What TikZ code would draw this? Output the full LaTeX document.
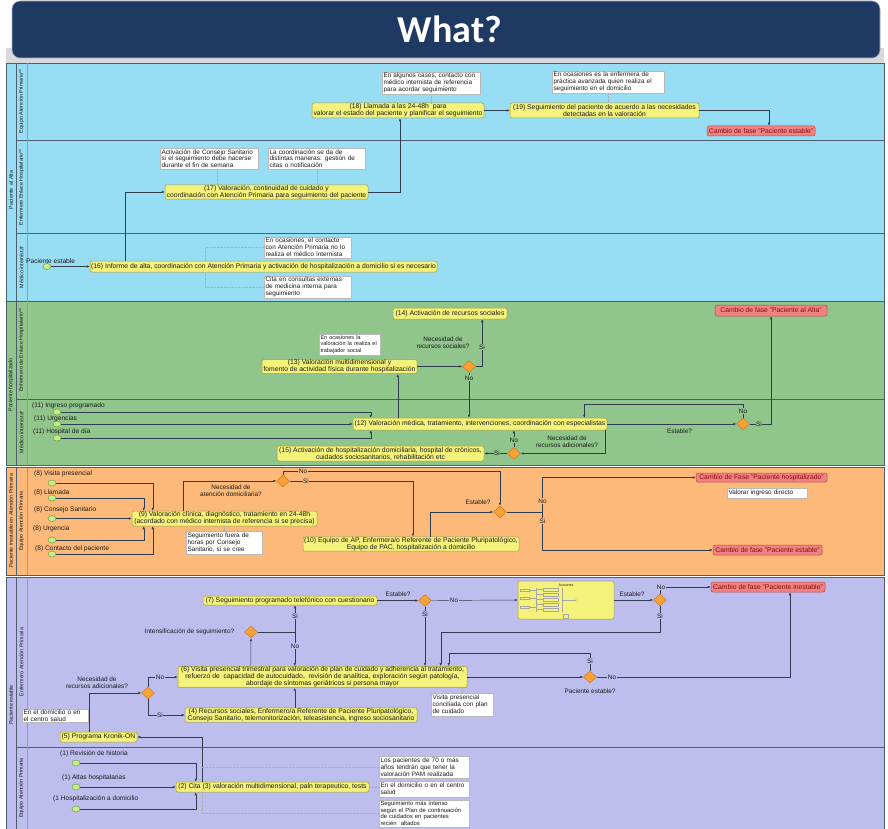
\documentclass[tikz,border=0pt]{standalone}
\usepackage{fontspec}
\setmainfont{Liberation Sans}
\newfontfamily\titlefam{Carlito}
\usetikzlibrary{arrows.meta,shapes.geometric,calc}
\definecolor{bluec}{HTML}{97DDF4}
\definecolor{greenc}{HTML}{90C58B}
\definecolor{orangec}{HTML}{FDB979}
\definecolor{purplec}{HTML}{BDBDEE}
\definecolor{taskf}{HTML}{F4F27A}
\definecolor{taskd}{HTML}{9C9C3C}
\definecolor{redf}{HTML}{EF8282}
\definecolor{redd}{HTML}{B84848}
\definecolor{redt}{HTML}{8A0A0A}
\definecolor{gwf}{HTML}{F7A136}
\definecolor{gwd}{HTML}{C8741A}
\definecolor{stf}{HTML}{C6EE8C}
\definecolor{std}{HTML}{6E9E3A}
\definecolor{linec}{HTML}{2E3C4C}
\definecolor{lanel}{HTML}{4E5E6E}
\definecolor{titlec}{HTML}{1E3A62}
\definecolor{txtc}{HTML}{1A1A1A}
\newcommand\dgtask{\fontsize{6.8}{7.0}\selectfont}
\newcommand\dgann{\fontsize{6.4}{6.8}\selectfont}
\newcommand\dgev{\fontsize{6.6}{7}\selectfont}
\newcommand\dglane{\fontsize{5.3}{6}\selectfont}
\newcommand\mkbox[7]{\pgfmathsetmacro\mkW{#5-#3}\pgfmathsetmacro\mkH{#6-#4}\pgfmathsetmacro\mkX{(#3+#5)/2}\pgfmathsetmacro\mkY{(#4+#6)/2}\node[#2,minimum width=\mkW pt,minimum height=\mkH pt] (#1) at (\mkX,\mkY) {#7};}
\newcommand\mkann[6]{\pgfmathsetmacro\mkW{#4-#2-1}\pgfmathsetmacro\mkH{#5-#3}\pgfmathsetmacro\mkX{(#2+#4)/2}\pgfmathsetmacro\mkY{(#3+#5)/2}\node[ann,text width=\mkW pt,minimum height=\mkH pt] (#1) at (\mkX,\mkY) {#6};}
\begin{document}
\begin{tikzpicture}[x=1pt,y=-1pt,
  task/.style={draw=taskd, fill=taskf, rounded corners=2pt, line width=0.5pt, inner sep=0.5pt, align=center, font=\dgtask, text=txtc},
  redbox/.style={draw=redd, fill=redf, rounded corners=2pt, line width=0.5pt, inner sep=0.5pt, align=center, font=\dgtask, text=redt},
  accbox/.style={draw=taskd, fill=taskf, rounded corners=2pt, line width=0.5pt, inner sep=0pt},
  ann/.style={draw=gray!55, fill=white, line width=0.4pt, inner sep=1pt, align=left, font=\dgann, text=txtc},
  gw/.style={diamond, draw=gwd, fill=gwf, line width=0.4pt, minimum width=13pt, minimum height=12pt, inner sep=0pt},
  startev/.style={ellipse, draw=std, fill=stf, line width=0.5pt, minimum width=8pt, minimum height=6pt, inner sep=0pt},
  flow/.style={draw=linec, line width=0.45pt, -{Latex[length=3pt,width=2.4pt]}},
  assoc/.style={draw=gray!65, line width=0.4pt, densely dotted},
  lbl/.style={font=\dgann, text=txtc, inner sep=0.5pt, align=center},
  evlbl/.style={font=\dgev, text=txtc, inner sep=0pt, anchor=west},
  lanelbl/.style={font=\dglane, text=txtc, rotate=90, inner sep=0pt},
  mini/.style={draw=gray!70, line width=0.3pt}
]
\useasboundingbox (0,0) rectangle (888,829);
\fill[white] (0,0) rectangle (888,829);
% ---------- pools ----------
\fill[gray!30] (6,48) rectangle (884,63);
\fill[bluec] (6,63) rectangle (884,301);
\fill[greenc] (6,301) rectangle (884,465);
\fill[orangec] (6,467.5) rectangle (884,575);
\fill[purplec] (6,577.5) rectangle (884,829);
\begin{scope}[draw=lanel, line width=0.7pt]
\draw (6,63) rectangle (884,301);
\draw (6,301) rectangle (884,465);
\draw (6,467.5) rectangle (884,575);
\draw (6,577.5) rectangle (884,829);
\draw (16,63) -- (16,465);
\draw (16,467.5) -- (16,575);
\draw (16,577.5) -- (16,829);
\draw (16,140) -- (884,140);
\draw (16,233.5) -- (884,233.5);
\draw (16,399) -- (884,399);
\draw (16,747) -- (884,747);
\end{scope}
\begin{scope}[draw=lanel!60, line width=0.35pt]
\draw (27,63) -- (27,465);
\draw (27,467.5) -- (27,575);
\draw (27,577.5) -- (27,829);
\end{scope}
% lane labels
\node[lanelbl] (p1) at (11,190) {Paciente\ \ al Alta};
\node[lanelbl] (l1) at (21.5,101.5) {Equipo Atención Primaria**};
\node[lanelbl] (l2) at (21.5,187) {Enfermero Enlace Hospitalario**};
\node[lanelbl] (l3) at (21.5,267) {Médico internista*};
\node[lanelbl] (p2) at (11,385) {Paciente hospitalizado};
\node[lanelbl] (l4) at (21.5,350) {Enfermero de Enlace Hospitalario**};
\node[lanelbl] (l5) at (21.5,432) {Médico internista*};
\node[lanelbl] (p3) at (11,521) {Paciente inestable en Atención Primaria};
\node[lanelbl] (l6) at (21.5,521) {Equipo Atención Primaria};
\node[lanelbl] (p4) at (11,705) {Paciente estable};
\node[lanelbl] (l7) at (21.5,662) {Enfermero Atención Primaria};
\node[lanelbl] (l8) at (21.5,788) {Equipo Atención Primaria};
% ---------- title ----------
\fill[titlec, rounded corners=8pt] (12,1) rectangle (880,58);
\draw[white!60!titlec, line width=0.6pt, rounded corners=8pt] (12,1) rectangle (880,58);
\node[text=white, font=\titlefam\bfseries\fontsize{38}{40}\selectfont] (title) at (450,29) {What?};
% ---------- blue pool ----------
\mkann{a1}{383}{72}{480}{94}{En algunos casos, contacto con\\médico internista de referencia\\para acordar seguimiento}
\mkann{a2}{553}{72}{664}{92}{En ocasiones es la enfermera de\\práctica avanzada quien realiza el\\seguimiento en el domicilio}
\mkbox{t18}{task}{312}{103}{484}{118}{(18) Llamada a las 24-48h\ \ para\\valorar el estado del paciente y planificar el seguimiento}
\mkbox{t19}{task}{510}{103}{699}{118}{(19) Seguimiento del paciente de acuerdo a las necesidades\\detectadas en la valoración}
\mkbox{r1}{redbox}{707}{126}{815}{136}{Cambio de fase "Paciente estable"}
\mkann{a3}{161}{148}{258}{169}{Activación de Consejo Sanitario\\si el seguimiento debe hacerse\\durante el fin de semana}
\mkann{a4}{269}{148}{365}{169}{La coordinación se da de\\distintas maneras: gestión de\\citas o notificación}
\mkbox{t17}{task}{165}{185}{368}{199}{(17) Valoración, continuidad de cuidado y\\coordinación con Atención Primaria para seguimiento del paciente}
\mkann{a5}{265}{237}{351}{258}{En ocasiones, el contacto\\con Atención Primaria no lo\\realiza el médico internista}
\mkbox{t16}{task}{90}{261}{437}{272}{(16) Informe de alta, coordinación con Atención Primaria y activación de hospitalización a domicilio si es necesario}
\mkann{a6}{265}{277}{351}{297}{Cita en consultas externas\\de medicina interna para\\seguimiento}
\node[startev] (s0) at (47,266.5) {};
\node[evlbl] (s0l) at (26,261) {Paciente estable};
\draw[assoc] (a1.south) -- (a1.south |- t18.north);
\draw[assoc] (a2.south) -- (a2.south |- t19.north);
\coordinate (a3d) at ([xshift=8pt]a3.south);
\draw[assoc] (a3d) -- (a3d |- t17.north);
\draw[assoc] (a4.south) -- (a4.south |- t17.north);
\coordinate (t16a) at ([xshift=115pt]t16.north west);
\coordinate (t16b) at ([xshift=115pt]t16.south west);
\draw[assoc] (t16a) |- (a5.west);
\draw[assoc] (t16b) |- (a6.west);
\draw[flow] (t18) -- (t19);
\draw[flow] (t19.east) -| ([xshift=8pt]r1.north);
\draw[flow] (t17.east) -| ([xshift=2pt]t18.south);
\draw[flow] ([xshift=35pt]t16.north west) |- (t17.west);
\draw[flow] (s0) -- (s0 -| t16.west);
% ---------- green pool ----------
\mkbox{t14}{task}{393}{308}{507}{319}{(14) Activación de recursos sociales}
\mkbox{r2}{redbox}{715}{305}{827}{316}{Cambio de fase "Paciente al Alta"}
\mkann{a7}{320}{334}{380}{355}{{\fontsize{5.5}{6.6}\selectfont En ocasiones la\\valoración la realiza el\\trabajador social}}
\node[lbl] (q1) at (443,343) {Necesidad de\\recursos sociales?};
\mkbox{t13}{task}{262}{360}{417}{373}{(13) Valoración multidimensional y\\fomento de actividad física durante hospitalización}
\node[gw] (g1) at (469,366.5) {};
\mkbox{t12}{task}{353}{418}{607}{430}{(12) Valoración médica, tratamiento, intervenciones, coordinación con especialistas}
\node[gw] (g2) at (743,424) {};
\node[lbl] (q2) at (679.5,431) {Estable?};
\node[gw] (g3) at (514,453.5) {};
\node[lbl] (q3) at (567,442) {Necesidad de\\recursos adicionales?};
\mkbox{t15}{task}{277}{446}{484}{461}{(15) Activación de hospitalización domiciliaria, hospital de crónicos,\\cuidados sociosanitarios, rehabilitación etc}
\node[startev] (c11a) at (57,412) {};
\node[startev] (c11b) at (57,424) {};
\node[startev] (c11c) at (57,438) {};
\node[evlbl] (c11al) at (32,405.5) {(11) Ingreso programado};
\node[evlbl] (c11bl) at (34,418.5) {(11) Urgencias};
\node[evlbl] (c11cl) at (33,432) {(11) Hospital de día};
\draw[flow] (t13.east) -- (g1.west);
\draw[flow] (g1.east) -| ([xshift=-25pt]t14.south east);
\draw[flow] (g1.south) -- (g1.south |- t12.north);
\coordinate (t12a) at ([xshift=45pt]t12.north west);
\draw[flow] (t12a) -- (t12a |- t13.south);
\draw[flow] (c11a) -| ([xshift=18pt]t12.north west);
\draw[flow] (c11b) -- (t12.west);
\draw[flow] (c11c) -| ([xshift=18pt]t12.south west);
\draw[flow] (t12.east) -- (g2.west);
\draw[flow] (g2.north) -- ++(0,-14) -| ([xshift=-23pt]t12.north east);
\draw[flow] (g2.east) -| (r2.south);
\draw[flow] ([xshift=-2pt]t12.south east) |- (g3.east);
\draw[flow] (g3.north) -- (g3.north |- t12.south);
\draw[flow] (g3.west) -- (t15.east);
\node[lbl, fill=greenc] (y1) at (482,347) {Si};
\node[lbl, fill=greenc] (n1) at (469,378) {No};
\node[lbl, fill=greenc] (n2) at (743,411) {No};
\node[lbl, fill=greenc] (y2) at (759,424) {Si};
\node[lbl, fill=greenc] (n3) at (514,440) {No};
\node[lbl, fill=greenc] (y3) at (497,453.5) {Si};
% ---------- orange pool ----------
\node[startev] (c8a) at (52,483) {};
\node[startev] (c8b) at (52,498) {};
\node[startev] (c8c) at (52,518.5) {};
\node[startev] (c8d) at (52,540) {};
\node[startev] (c8e) at (52,554) {};
\node[evlbl] (c8al) at (34,474) {(8) Visita presencial};
\node[evlbl] (c8bl) at (34,492.5) {(8) Llamada};
\node[evlbl] (c8cl) at (34,510) {(8) Consejo Sanitario};
\node[evlbl] (c8dl) at (33,529) {(8) Urgencia};
\node[evlbl] (c8el) at (35,548.5) {(8) Contacto del paciente};
\mkbox{t9}{task}{132}{511}{317}{526}{(9) Valoración clínica, diagnóstico, tratamiento en 24-48h\\(acordado con médico internista de referencia si se precisa)}
\mkann{a8}{187}{531}{262}{554}{Seguimiento fuera de\\horas por Consejo\\Sanitario, si se cree}
\node[gw] (g4) at (283,481) {};
\node[lbl] (q4) at (231,490.5) {Necesidad de\\atención domiciliaria?};
\node[gw] (g5) at (500,512) {};
\node[lbl] (q5) at (478,502) {Estable?};
\mkbox{t10}{task}{303}{537}{519}{551}{(10) Equipo de AP, Enfermera/o Referente de Paciente Pluripatológico,\\Equipo de PAC, hospitalización a domicilio}
\mkbox{r3}{redbox}{696}{473}{827}{482}{Cambio de Fase "Paciente hospitalizado"}
\mkann{a9}{728}{488}{807}{498}{Valorar ingreso directo}
\mkbox{r4}{redbox}{713}{545}{822}{555}{Cambio de fase "Paciente estable"}
\draw[flow] (c8a) -| ([xshift=21pt]t9.north west);
\draw[flow] (c8b) -| ([xshift=12pt]t9.north west);
\draw[flow] (c8c) -- (t9.west);
\draw[flow] (c8d) -| ([xshift=12pt]t9.south west);
\draw[flow] (c8e) -| ([xshift=21pt]t9.south west);
\draw[assoc] (a8.north) -- (a8.north |- t9.south);
\draw[flow] ([xshift=51pt]t9.north west) |- (g4.west);
\draw[flow] (g4.north) -- ++(0,-4) -| (g5.north);
\draw[flow] (g4.east) -| ([xshift=2pt]t10.north);
\draw[flow] ([xshift=19pt]t10.north) |- (g5.west);
\draw[flow] (g5.east) -- ++(36,0) |- (r3.west);
\draw[flow] (g5.east) -- ++(36,0) |- (r4.west);
\node[lbl, fill=orangec] (n4) at (303,471) {No};
\node[lbl, fill=orangec] (y4) at (306,481) {Si};
\node[lbl, fill=orangec] (n5) at (542.5,501) {No};
\node[lbl, fill=orangec] (y5) at (542.5,521) {Si};
% ---------- purple pool ----------
\mkbox{t7}{task}{203}{596}{377}{605}{(7) Seguimiento programado telefónico con cuestionario}
\node[gw] (g6) at (425,600.5) {};
\node[lbl] (q6) at (398,594.5) {Estable?};
\mkbox{acc}{accbox}{518}{581}{614}{619}{}
\node[font=\fontsize{3.6}{4}\selectfont, text=txtc, inner sep=0pt] (acct) at (566,585) {Acciones};
\foreach \yy in {589,597,606} {\draw[mini] (520,\yy) rectangle (529,\yy+2.5); \draw[mini] (529,\yy+1.2) -- (536,\yy+1.2);}
\draw[mini] (536,588) -- (536,612);
\foreach \yy in {588,593,598,603,608} {\draw[mini] (536,\yy+1.5) -- (543,\yy+1.5); \draw[mini] (543,\yy) rectangle (558,\yy+3);}
\draw[mini] (562,588) -- (562,612);
\draw[mini, -{Latex[length=1.5pt,width=1.5pt]}] (562,600) -- (577,600);
\draw[mini] (563.5,614.5) rectangle (568.5,618.5);
\node[gw] (g7) at (660,600) {};
\node[lbl] (q7) at (632,594.5) {Estable?};
\mkbox{r5}{redbox}{711}{582}{825}{592}{Cambio de fase "Paciente inestable"}
\node[gw] (g10) at (251,632) {};
\node[lbl] (q10) at (189.5,632) {Intensificación de seguimiento?};
\mkbox{t6}{task}{178}{667}{467}{687}{(6) Visita presencial trimestral para valoración de plan de cuidado y adherencia al tratamiento,\\refuerzo de\ \ capacidad de autocuidado,\ \ revisión de analítica, exploración según patología,\\abordaje de síntomas geriátricos si persona mayor}
\node[gw] (g8) at (590,677) {};
\node[lbl] (q8) at (590,691) {Paciente estable?};
\mkann{a10}{432}{693}{493}{716}{Visita presencial\\conciliada con plan\\de cuidado}
\node[gw] (g9) at (148,693) {};
\node[lbl] (q9) at (97,683) {Necesidad de\\recursos adicionales?};
\mkann{a11}{23}{709}{88}{722}{En el domicilio o en\\el centro salud}
\mkbox{t4}{task}{185}{708}{417}{722}{(4) Recursos sociales, Enfermero/a Referente de Paciente Pluripatológico,\\Consejo Sanitario, telemonitorización, teleasistencia, ingreso sociosanitario}
\mkbox{t5}{task}{60}{732}{137}{742}{(5) Programa Kronik-ON}
\node[startev] (c1a) at (76,763) {};
\node[startev] (c1b) at (76,787) {};
\node[startev] (c1c) at (76,809) {};
\node[evlbl] (c1al) at (60,754) {(1) Revisión de historia};
\node[evlbl] (c1bl) at (62,778) {(1) Altas hospitalarias};
\node[evlbl] (c1cl) at (53,799) {(1 Hospitalización a domicilio};
\mkbox{t2}{task}{176}{782}{369}{792}{(2) Cita (3) valoración multidimensional, paln terapeutico, tests}
\mkann{a12}{380}{756}{469}{778}{Los pacientes de 70 o más\\años tendrán que tener la\\valoración PAM realizada}
\mkann{a13}{380}{781}{469}{797}{En el domicilio o en el centro\\salud}
\mkann{a14}{380}{800}{469}{827}{{\fontsize{5.9}{6.3}\selectfont Seguimiento más intenso\\según el Plan de continuación\\de cuidados en pacientes\\recién\ \ altados}}
\draw[flow] (t7.east) -- (g6.west);
\draw[flow] (g6.east) -- (acc.west);
\draw[flow] (acc.east) -- (g7.west);
\draw[flow] (g7.north) |- (r5.west);
\draw[flow] (g7.south) -- ++(0,26) -| ([xshift=263pt]t6.north west);
\draw[flow] (g6.south) -- (g6.south |- t6.north);
\draw[flow] (g8.north) -- ++(0,-18) -| ([xshift=271pt]t6.north west);
\draw[flow] (t6.east) -- (g8.west);
\draw[flow] (g8.east) -| ([xshift=22pt]r5.south);
\draw[assoc] (a10.north) -- (a10.north |- t6.south);
\draw[flow] ([xshift=73pt]t6.north west) -- (g10.south);
\draw[flow] (g10.east) -| ([xshift=5pt]t7.south);
\draw[flow] (g10.east) -| ([xshift=117pt]t6.north west);
\draw[flow] (g9.north) |- (t6.west);
\draw[flow] (g9.south) |- (t4.west);
\coordinate (t4up) at ([xshift=110pt]t4.north west);
\draw[flow] (t4up) -- (t4up |- t6.south);
\draw[flow] ([xshift=29pt]t5.north west) |- (g9.west);
\draw[flow] ([xshift=26pt]t2.north west) |- (t5.east);
\draw[flow] (c1a) -| ([xshift=20pt]t2.north west);
\draw[flow] (c1b) -- (t2.west);
\draw[flow] (c1c) -| ([xshift=20pt]t2.south west);
\coordinate (t2x) at ([xshift=26pt]t2.north west);
\draw[assoc] (t2x |- a12.west) -- (a12.west);
\draw[assoc] ([xshift=26pt]t2.south west) |- (a14.west);
\draw[assoc] (t2.east) -- (t2.east -| a13.west);
\node[lbl, fill=purplec] (n6) at (454,600.5) {No};
\node[lbl, fill=purplec] (y6) at (425,614) {Si};
\node[lbl, fill=purplec] (n7) at (661,587) {No};
\node[lbl, fill=purplec] (y7) at (660,616) {Si};
\node[lbl, fill=purplec] (y8) at (590,661) {Si};
\node[lbl, fill=purplec] (n8) at (612,677) {No};
\node[lbl, fill=purplec] (y10) at (295,616) {Si};
\node[lbl, fill=purplec] (n10) at (295,646) {No};
\node[lbl, fill=purplec] (n9) at (160,677) {No};
\node[lbl, fill=purplec] (y9) at (160,715) {Si};
\end{tikzpicture}
\end{document}
